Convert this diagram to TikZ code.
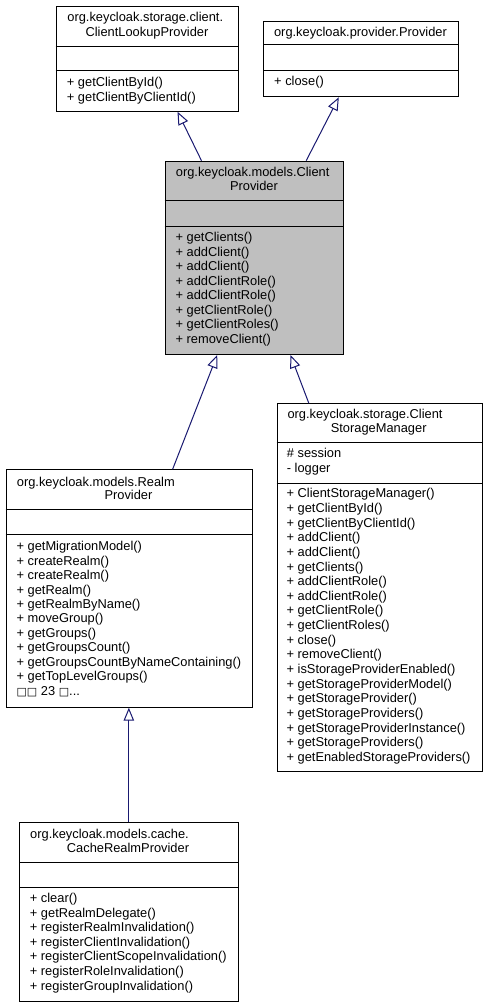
\documentclass[tikz,border=0pt]{standalone}
\usepackage{fontspec}
\setmainfont{Liberation Sans}
\newfontfamily\symfont{DejaVu Sans}
\usetikzlibrary{arrows.meta}
\definecolor{navy}{HTML}{191970}
\definecolor{greyfill}{HTML}{BFBFBF}
\tikzset{
  box/.style={draw=black, line width=1pt, fill=white, inner sep=0, anchor=north west},
  mainbox/.style={box, fill=greyfill},
  divider/.style={draw=black, line width=1pt},
  txt/.style={inner sep=0, font=\fontsize{12.85}{15}\selectfont, text=black},
  inh/.style={draw=navy, line width=1pt, -{Triangle[fill=white, length=13pt, width=10.5pt]}}
}
\begin{document}
\begin{tikzpicture}[x=1pt,y=-1pt]
\useasboundingbox (0,0) rectangle (487,1007);

% ClientLookupProvider
\node[box, minimum width=182.6, minimum height=105] (clp) at (55.7,5.7) {};
\draw[divider] (55.7,46.3) -- (238.3,46.3);
\draw[divider] (55.7,70.7) -- (238.3,70.7);
\node[txt, anchor=base west] (clpt1) at (67.2,21.8) {org.keycloak.storage.client.};
\node[txt, anchor=base] (clpt2) at (147,36.8) {ClientLookupProvider};
\foreach \t [count=\i from 0] in {+ getClientById(), + getClientByClientId()}
  \node[txt, anchor=base west] (clpm\i) at (66.7,{86.2+\i*15}) {\t};

% Provider
\node[box, minimum width=194.4, minimum height=75.6] (pr) at (263.3,20.7) {};
\draw[divider] (263.3,44.3) -- (457.7,44.3);
\draw[divider] (263.3,70.7) -- (457.7,70.7);
\node[txt, anchor=base] (prt1) at (360.5,36.2) {org.keycloak.provider.Provider};
\node[txt, anchor=base west] (prm0) at (274,85.8) {+ close()};

% ClientProvider
\node[mainbox, minimum width=178.6, minimum height=193.3] (cp) at (164.7,160.7) {};
\draw[divider] (164.7,200.7) -- (343.3,200.7);
\draw[divider] (164.7,226) -- (343.3,226);
\node[txt, anchor=base west] (cpt1) at (175.7,176.2) {org.keycloak.models.Client};
\node[txt, anchor=base] (cpt2) at (254,190) {Provider};
\foreach \t [count=\i from 0] in {+ getClients(), + addClient(), + addClient(), + addClientRole(), + addClientRole(), + getClientRole(), + getClientRoles(), + removeClient()}
  \node[txt, anchor=base west] (cpm\i) at (175.4,{241.8+\i*14.52}) {\t};

% RealmProvider
\node[box, minimum width=246, minimum height=237.4] (rp) at (5.7,469.3) {};
\draw[divider] (5.7,509) -- (251.7,509);
\draw[divider] (5.7,534) -- (251.7,534);
\node[txt, anchor=base west] (rpt1) at (16.7,486.2) {org.keycloak.models.Realm};
\node[txt, anchor=base] (rpt2) at (128.5,499.8) {Provider};
\foreach \t [count=\i from 0] in {+ getMigrationModel(), + createRealm(), + createRealm(), + getRealm(), + getRealmByName(), + moveGroup(), + getGroups(), + getGroupsCount(), + getGroupsCountByNameContaining(), + getTopLevelGroups()}
  \node[txt, anchor=base west] (rpm\i) at (16.4,{550.8+\i*14.43}) {\t};
\node[txt, anchor=base west] (rpmore) at (16.4,{550.8+10*14.43}) {{\symfont\fontsize{11}{15}\selectfont □□} 23 {\symfont\fontsize{11}{15}\selectfont □}...};

% ClientStorageManager
\node[box, minimum width=205.3, minimum height=367.7] (csm) at (276.7,403.3) {};
\draw[divider] (276.7,442.7) -- (482,442.7);
\draw[divider] (276.7,483.3) -- (482,483.3);
\node[txt, anchor=base west] (csmt1) at (287.3,418.5) {org.keycloak.storage.Client};
\node[txt, anchor=base] (csmt2) at (378.7,432.8) {StorageManager};
\node[txt, anchor=base west] (csma0) at (286.7,457.8) {\# session};
\node[txt, anchor=base west] (csma1) at (286.7,472.5) {- logger};
\foreach \t [count=\i from 0] in {+ ClientStorageManager(), + getClientById(), + getClientByClientId(), + addClient(), + addClient(), + getClients(), + addClientRole(), + addClientRole(), + getClientRole(), + getClientRoles(), + close(), + removeClient(), + isStorageProviderEnabled(), + getStorageProviderModel(), + getStorageProvider(), + getStorageProviders(), + getStorageProviderInstance(), + getStorageProviders(), + getEnabledStorageProviders()}
  \node[txt, anchor=base west] (csmm\i) at (286.4,{497.8+\i*14.64}) {\t};

% CacheRealmProvider
\node[box, minimum width=218.7, minimum height=178.7] (crp) at (19,822) {};
\draw[divider] (19,862.3) -- (237.7,862.3);
\draw[divider] (19,887.3) -- (237.7,887.3);
\node[txt, anchor=base west] (crpt1) at (30,838.5) {org.keycloak.models.cache.};
\node[txt, anchor=base] (crpt2) at (128,852.5) {CacheRealmProvider};
\foreach \t [count=\i from 0] in {+ clear(), + getRealmDelegate(), + registerRealmInvalidation(), + registerClientInvalidation(), + registerClientScopeInvalidation(), + registerRoleInvalidation(), + registerGroupInvalidation()}
  \node[txt, anchor=base west] (crpm\i) at (29.7,{902.5+\i*14.6}) {\t};

% inheritance connectors
\draw[inh] ([xshift=-53]cp.north) -- ([xshift=30]clp.south);
\draw[inh] ([xshift=51.7]cp.north) -- ([xshift=-22.2]pr.south);
\draw[inh] ([xshift=43.4]rp.north) -- ([xshift=-37.3]cp.south);
\draw[inh] ([xshift=-71]csm.north) -- ([xshift=36]cp.south);
\draw[inh] (crp.north) -- (crp.north |- rp.south);
\end{tikzpicture}
\end{document}
